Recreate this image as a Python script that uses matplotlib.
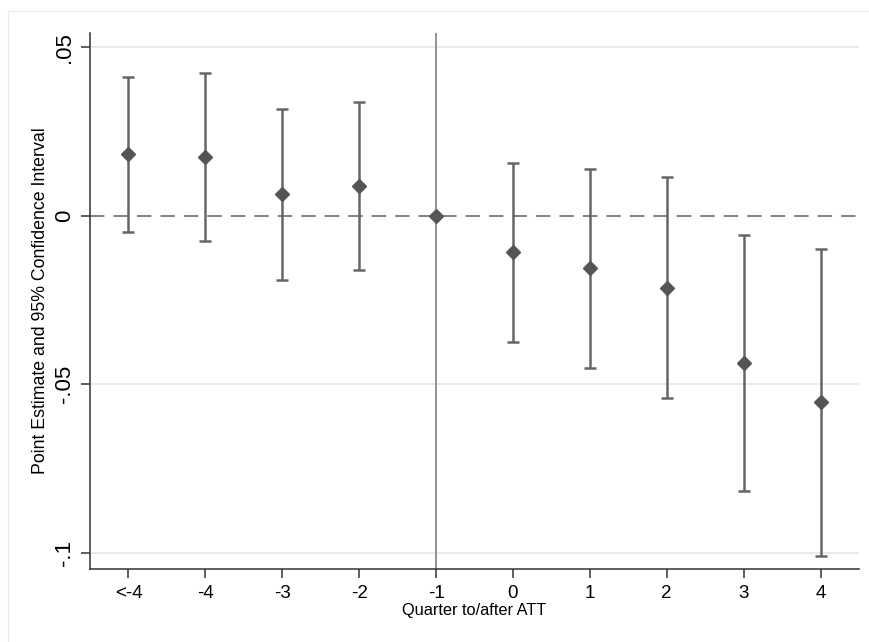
import numpy as np
import matplotlib
matplotlib.use('Agg')
import matplotlib.pyplot as plt
from matplotlib.patches import Rectangle

plt.rcParams['font.family'] = ['Liberation Sans', 'DejaVu Sans']

# ── Data ──────────────────────────────────────────────────────────────────────
quarters = ['<-4', '-4', '-3', '-2', '-1', '0', '1', '2', '3', '4']
estimate = [0.0183, 0.0174, 0.0064, 0.0089, 0.0, -0.0108, -0.0156, -0.0214, -0.0436, -0.0554]
ci_low   = [-0.0048, -0.0076, -0.0190, -0.0162, 0.0, -0.0375, -0.0452, -0.0542, -0.0816, -0.1009]
ci_high  = [0.0412, 0.0423, 0.0316, 0.0338, 0.0, 0.0156, 0.0139, 0.0115, -0.0057, -0.0099]
yticks      = [0.05, 0.0, -0.05, -0.1]
ytick_names = ['.05', '0', '-.05', '-.1']

# ── Plot ──────────────────────────────────────────────────────────────────────
fig = plt.figure(figsize=(8.7, 6.42), dpi=100)
fig.patches.append(Rectangle((8 / 870, -0.1), 1.2, (642 - 11) / 642 + 0.1,
                             transform=fig.transFigure, fill=False,
                             edgecolor='#ececec', linewidth=0.8))
ax = fig.add_axes([90 / 870, (642 - 569) / 642, (859 - 90) / 870, (569 - 33) / 642])

x = np.arange(len(quarters))
est = np.array(estimate)
lo, hi = np.array(ci_low), np.array(ci_high)
has_ci = hi > lo

for yt in [0.05, -0.05, -0.1]:
    ax.axhline(yt, color='#e6e6e6', linewidth=1.2, zorder=0)
ax.axhline(0, color='#777777', linewidth=1.3, linestyle=(0, (8, 5)), zorder=1)
ax.axvline(x[quarters.index('-1')], color='#8a8a8a', linewidth=1.3, zorder=1)

ax.errorbar(x[has_ci], est[has_ci],
            yerr=[est[has_ci] - lo[has_ci], hi[has_ci] - est[has_ci]],
            fmt='none', ecolor='#666666', elinewidth=1.8, capsize=4.5, capthick=1.8, zorder=2)
ax.plot(x, est, linestyle='none', marker='D', markersize=7.5,
        color='#555555', markeredgecolor='#555555', zorder=3)

ax.set_xlim(-0.5, 9.5)
ax.set_ylim(-0.1048, 0.0542)
ax.set_xticks(x)
ax.set_xticklabels(quarters, fontsize=13.5)
ax.set_yticks(yticks)
ax.set_yticklabels(ytick_names, fontsize=16, rotation=90, va='center')

for side in ['top', 'right']:
    ax.spines[side].set_visible(False)
for side in ['left', 'bottom']:
    ax.spines[side].set_color('#333333')
    ax.spines[side].set_linewidth(1.1)
ax.tick_params(axis='both', color='#333333', length=6.5, width=1.1)
ax.tick_params(axis='x', pad=5)
ax.tick_params(axis='y', pad=4)

ax.set_xlabel('Quarter to/after ATT', fontsize=11.8, labelpad=1)
ax.set_ylabel('Point Estimate and 95% Confidence Interval', fontsize=12.8)
ax.yaxis.set_label_coords(-0.053, 0.5)

plt.savefig('out.png', dpi=100)
